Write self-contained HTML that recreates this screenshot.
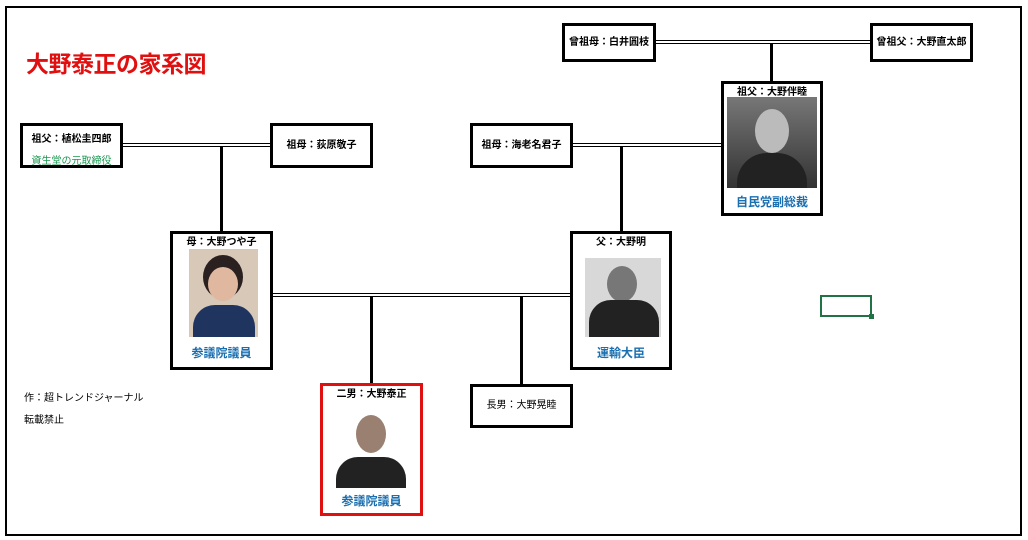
<!DOCTYPE html>
<html><head><meta charset="utf-8"><style>
*{margin:0;padding:0;box-sizing:border-box}
body{width:1028px;height:540px;background:#fff;position:relative;overflow:hidden;font-family:"Liberation Sans","Noto Sans CJK JP",sans-serif}
.a{position:absolute}
.b{position:absolute;border:3px solid #000;background:#fff;text-align:center;font-size:10px;font-weight:bold;color:#000}
.dl{position:absolute;height:4px;border-top:1px solid #000;border-bottom:1px solid #000}
.vl{position:absolute;width:3px;background:#000}
.blue{position:absolute;left:0;right:0;color:#1a6fb0;font-size:12px;font-weight:bold;line-height:14px}
.t{position:absolute;left:0;right:0;top:3px;line-height:12px}
</style></head><body>
<div class="a" style="left:5px;top:6px;width:1017px;height:530px;border:2px solid #000"></div>
<div class="a" style="left:26px;top:45px;font-size:23px;font-weight:bold;color:#e01010;letter-spacing:-0.5px">大野泰正の家系図</div>

<div class="dl" style="left:122px;top:143px;width:148px"></div>
<div class="vl" style="left:220px;top:147px;height:86px"></div>
<div class="dl" style="left:572px;top:143px;width:150px"></div>
<div class="vl" style="left:620px;top:147px;height:86px"></div>
<div class="dl" style="left:655px;top:40px;width:215px"></div>
<div class="vl" style="left:770px;top:44px;height:39px"></div>
<div class="dl" style="left:272px;top:293px;width:298px"></div>
<div class="vl" style="left:370px;top:297px;height:87px"></div>
<div class="vl" style="left:520px;top:297px;height:88px"></div>

<div class="b" style="left:20px;top:123px;width:103px;height:45px;padding-top:4px">祖父：植松圭四郎<div style="color:#1a9a50;font-weight:normal;margin-top:7px">資生堂の元取締役</div></div>
<div class="b" style="left:270px;top:123px;width:103px;height:45px;line-height:39px">祖母：荻原敬子</div>
<div class="b" style="left:470px;top:123px;width:103px;height:45px;line-height:39px">祖母：海老名君子</div>
<div class="b" style="left:562px;top:23px;width:94px;height:39px;line-height:33px">曾祖母：白井圓枝</div>
<div class="b" style="left:870px;top:23px;width:103px;height:39px;line-height:33px">曾祖父：大野直太郎</div>

<div class="b" style="left:721px;top:81px;width:102px;height:135px"><div class="t">祖父：大野伴睦</div>
<div class="a" style="left:3px;top:13px;width:90px;height:91px;background:linear-gradient(#777,#333)"><div class="a" style="left:28px;top:12px;width:34px;height:44px;border-radius:50%;background:#bbb"></div><div class="a" style="left:10px;top:56px;width:70px;height:35px;border-radius:30px 30px 0 0;background:#222"></div></div>
<div class="blue" style="top:111px">自民党副総裁</div></div>

<div class="b" style="left:170px;top:231px;width:103px;height:139px"><div class="t">母：大野つや子</div>
<div class="a" style="left:16px;top:15px;width:69px;height:88px;background:#d8c8b8"><div class="a" style="left:14px;top:6px;width:40px;height:44px;border-radius:50%;background:#2a2020"></div><div class="a" style="left:19px;top:18px;width:30px;height:34px;border-radius:50%;background:#e0b8a0"></div><div class="a" style="left:4px;top:56px;width:62px;height:32px;border-radius:22px 22px 0 0;background:#1f3560"></div></div>
<div class="blue" style="top:112px">参議院議員</div></div>

<div class="b" style="left:570px;top:231px;width:102px;height:139px"><div class="t">父：大野明</div>
<div class="a" style="left:12px;top:24px;width:76px;height:79px;background:#d8d8d8"><div class="a" style="left:22px;top:8px;width:30px;height:36px;border-radius:50%;background:#777"></div><div class="a" style="left:4px;top:42px;width:70px;height:37px;border-radius:22px 22px 0 0;background:#222"></div></div>
<div class="blue" style="top:112px">運輸大臣</div></div>

<div class="b" style="left:320px;top:383px;width:103px;height:133px;border-color:#e01010"><div class="t">二男：大野泰正</div>
<div class="a" style="left:13px;top:27px;width:70px;height:75px;background:#fff"><div class="a" style="left:20px;top:2px;width:30px;height:38px;border-radius:50%;background:#9a8070"></div><div class="a" style="left:0;top:44px;width:70px;height:31px;border-radius:22px 22px 0 0;background:#222"></div></div>
<div class="blue" style="top:108px">参議院議員</div></div>

<div class="b" style="left:470px;top:384px;width:103px;height:44px;line-height:38px;font-weight:normal">長男：大野晃睦</div>

<div class="a" style="left:24px;top:389px;font-size:10px">作：超トレンドジャーナル</div>
<div class="a" style="left:24px;top:411px;font-size:10px">転載禁止</div>

<div class="a" style="left:820px;top:295px;width:52px;height:22px;border:2px solid #217346"></div>
<div class="a" style="left:869px;top:314px;width:5px;height:5px;background:#217346"></div>
</body></html>
